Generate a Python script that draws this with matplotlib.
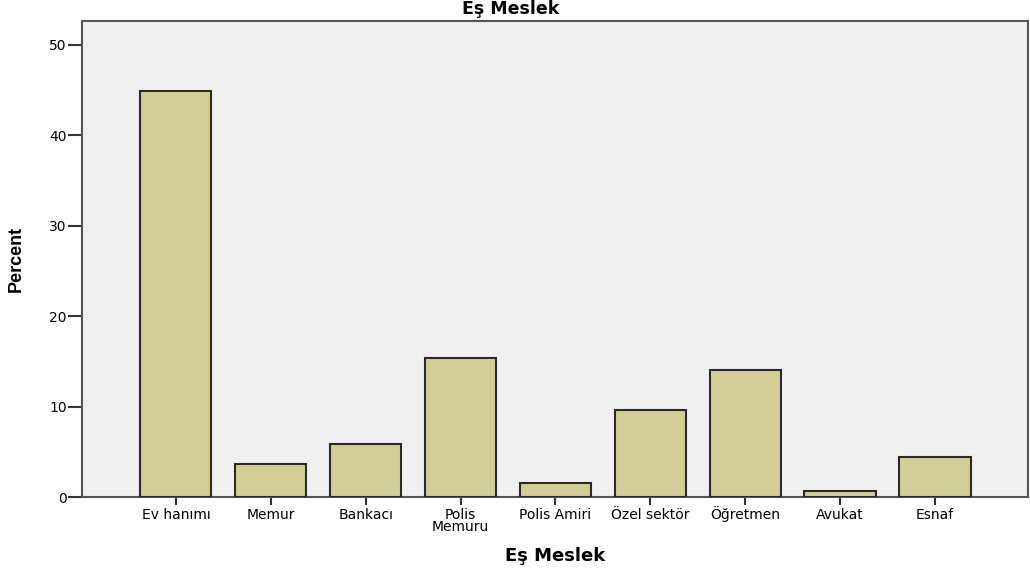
# bar chart: Eş Meslek (percent)

import numpy as np
import matplotlib
matplotlib.use("Agg")
import matplotlib.pyplot as plt

categories = ["Ev hanımı", "Memur", "Bankacı", "Polis\nMemuru", "Polis Amiri",
              "Özel sektör", "Öğretmen", "Avukat", "Esnaf"]
percent = [44.9, 3.7, 5.9, 15.4, 1.5, 9.6, 14.0, 0.7, 4.4]
yticks = [0, 10, 20, 30, 40, 50]

plt.rcParams['font.family'] = ['DejaVu Sans']

fig = plt.figure(figsize=(10.3, 5.74), dpi=100)
ax = fig.add_axes([0.0796, 0.1341, 0.9184, 0.8293])
ax.set_facecolor("#f0f0f0")

x = np.arange(len(categories))
ax.bar(x, percent, width=0.75, color="#d3ce97", edgecolor="#2a2a2a", linewidth=1.5, zorder=3)

ax.set_xlim(-0.99, len(categories) - 1 + 0.98)
ax.set_ylim(0, 52.65)
ax.set_yticks(yticks)
ax.set_xticks(x)
ax.set_xticklabels([])
ax.tick_params(axis='y', direction='out', length=10, width=1.5, color="#333333", labelsize=10, pad=1)
ax.tick_params(axis='x', direction='out', length=6, width=1.5, color="#333333")

# category labels, one line at a time so all baselines line up
for i, lab in enumerate(categories):
    for j, line in enumerate(lab.split("\n")):
        ax.annotate(line, xy=(i, 0), xycoords=('data', 'axes fraction'),
                    xytext=(0, -22 - 12 * j), textcoords='offset pixels',
                    ha='center', va='baseline', fontsize=10, annotation_clip=False)

for s in ax.spines.values():
    s.set_color("#555555")
    s.set_linewidth(1.5)

fig.text(0.496, 0.9756, "Eş Meslek", ha='center', va='baseline', fontsize=12.5, fontweight='bold')
fig.text(0.5388, 0.0226, "Eş Meslek", ha='center', va='baseline', fontsize=13, fontweight='bold')
fig.text(0.0155, 0.549, "Percent", ha='center', va='center', rotation=90, fontsize=13,
         fontweight='bold', family='Liberation Sans')

fig.savefig("out.png", dpi=100)
